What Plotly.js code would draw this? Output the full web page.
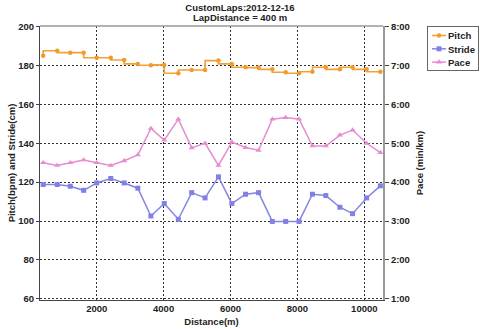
<!DOCTYPE html>
<html>
<head>
<meta charset="utf-8">
<script src="https://cdn.plot.ly/plotly-3.0.1.min.js"></script>
<style>html,body{margin:0;padding:0;background:#fff;}#chart{width:480px;height:329px;}</style>
</head>
<body>
<div id="chart"></div>
<script>
// Lap end distances (m)
var distance = [400, 820, 1210, 1610, 2000, 2420, 2820, 3230, 3620, 4020, 4440, 4840, 5240,
                5640, 6040, 6450, 6840, 7250, 7650, 8050, 8450, 8850, 9270, 9650, 10070, 10480];
// Pitch (bpm)
var pitch = [185, 187.6, 186.6, 186.6, 184, 184, 182.8, 180.8, 180.1, 180.3, 176, 177.7, 177.7,
             182.5, 180.8, 179.1, 178.9, 178, 176.5, 176, 176.8, 179.1, 178, 179.1, 178, 176.8];
// Stride (cm)
var stride = [118.8, 118.8, 117.9, 115.8, 119.6, 121.9, 119.6, 116.9, 102.6, 109.0, 100.9, 114.6, 111.9,
              122.7, 109.0, 113.8, 114.6, 99.8, 99.8, 99.8, 113.8, 113.1, 107.1, 103.8, 111.9, 118.1];
// Pace (min/km, decimal minutes)
var pace = [4.50, 4.43, 4.50, 4.57, 4.50, 4.43, 4.55, 4.70, 5.38, 5.08, 5.62, 4.88, 5.00,
            4.43, 5.03, 4.89, 4.82, 5.62, 5.66, 5.62, 4.93, 4.93, 5.21, 5.34, 5.00, 4.76];
var paceTickVals = [1, 2, 3, 4, 5, 6, 7, 8];
var paceTickText = ['1:00', '2:00', '3:00', '4:00', '5:00', '6:00', '7:00', '8:00'];
var xTickVals = [2000, 4000, 6000, 8000, 10000];
var leftTickVals = [60, 80, 100, 120, 140, 160, 180, 200];
var titleLine1 = 'CustomLaps:2012-12-16';
var titleLine2 = 'LapDistance = 400 m';

var F = 'Liberation Sans, Arial, sans-serif';
var font = {family: F, size: 9.5, color: '#222', weight: 'bold'};

var traces = [
  {x: distance, y: pitch, name: 'Pitch', type: 'scatter', mode: 'lines+markers',
   line: {color: '#f5a033', width: 1.6, shape: 'vh'},
   marker: {symbol: 'circle', size: 4.5, color: '#f19a2e'}},
  {x: distance, y: stride, name: 'Stride', type: 'scatter', mode: 'lines+markers',
   line: {color: '#8585e6', width: 1.5},
   marker: {symbol: 'square', size: 5, color: '#8080e6'}},
  {x: distance, y: pace, name: 'Pace', type: 'scatter', mode: 'lines+markers', yaxis: 'y2',
   line: {color: '#e78ccf', width: 1.5},
   marker: {symbol: 'triangle-up', size: 5.5, color: '#e78ccf'}}
];

var layout = {
  width: 480, height: 329,
  paper_bgcolor: '#fff', plot_bgcolor: '#fff',
  margin: {l: 40, r: 97, t: 26, b: 29, pad: 0, autoexpand: false},
  font: font,
  showlegend: true,
  title: {text: titleLine1, font: font, x: 0.5, xref: 'container', xanchor: 'center',
          y: 1 - 7.5 / 329, yref: 'container', yanchor: 'middle', automargin: false},
  annotations: [{text: titleLine2, xref: 'paper', yref: 'paper', x: (240 - 40) / 343, y: 1 + (26 - 17.5) / 274,
                 xanchor: 'center', yanchor: 'middle', showarrow: false, font: font}],
  xaxis: {range: [305, 10559], tickvals: xTickVals, tickformat: 'd', ticks: '', showline: true, linecolor: '#444', linewidth: 1,
          showgrid: true, gridcolor: '#333', griddash: '2px,2px', gridwidth: 1, zeroline: false,
          tickfont: font, automargin: false,
          title: {text: 'Distance(m)', font: font, standoff: 4}},
  yaxis: {range: [59.4, 200.3], tickvals: leftTickVals, ticks: 'outside', ticklen: 3, tickcolor: '#444',
          showline: true, linecolor: '#444', linewidth: 1, showgrid: true, gridcolor: '#333',
          griddash: '2px,2px', gridwidth: 1, zeroline: false, tickfont: font, automargin: false,
          title: {text: 'Pitch(bpm) and Stride(cm)', font: font, standoff: 0}},
  yaxis2: {range: [0.97, 8.015], overlaying: 'y', side: 'right', tickvals: paceTickVals, ticktext: paceTickText,
           ticks: 'outside', ticklen: 4, tickcolor: '#444', showline: true, linecolor: '#9a9a9a', linewidth: 2,
           showgrid: false, zeroline: false, tickfont: font, automargin: false,
           title: {text: 'Pace (min/km)', font: font, standoff: 7}},
  legend: {x: (427 - 40) / 343, xanchor: 'left', y: 1, yanchor: 'top', bgcolor: '#fff', bordercolor: '#666', borderwidth: 1,
           font: font, itemwidth: 30, tracegroupgap: 0},
  shapes: [{type: 'line', xref: 'paper', yref: 'paper', x0: 0, x1: 1, y0: 1, y1: 1,
            line: {color: '#9a9a9a', width: 1.5}, layer: 'above'}]
};

function compactLegend(gd) {
  var leg = gd.querySelector('g.legend');
  if (!leg) return;
  var items = leg.querySelectorAll('g.traces');
  var maxW = 0;
  items.forEach(function (it, i) {
    it.setAttribute('transform', 'translate(1,' + (9.5 + 13.3 * i) + ')');
    var ln = it.querySelectorAll('path.js-line');
    ln.forEach(function (p) { p.setAttribute('d', 'M4,0h14'); });
    var pts = it.querySelectorAll('path.scatterpts');
    pts.forEach(function (p) { p.setAttribute('transform', 'translate(11,0)'); });
    var tx = it.querySelector('text.legendtext');
    if (tx) {
      tx.setAttribute('x', 20);
      var w = tx.getComputedTextLength ? tx.getComputedTextLength() : 25;
      if (w > maxW) maxW = w;
    }
    var toggle = it.querySelector('rect.legendtoggle');
    if (toggle) toggle.setAttribute('width', 20 + maxW);
  });
  var boxW = Math.round(20 + maxW + 4);
  var boxH = 9.5 + 13.3 * (items.length - 1) + 8;
  var bg = leg.querySelector('rect.bg');
  if (bg) { bg.setAttribute('width', boxW); bg.setAttribute('height', boxH); }
  var clips = document.querySelectorAll('clipPath[id^="legend"] rect');
  clips.forEach(function (r) { r.setAttribute('width', boxW + 5); r.setAttribute('height', boxH + 5); });
}

Plotly.newPlot('chart', traces, layout, {displayModeBar: false, staticPlot: true}).then(function (gd) {
  compactLegend(gd);
});
</script>
</body>
</html>
